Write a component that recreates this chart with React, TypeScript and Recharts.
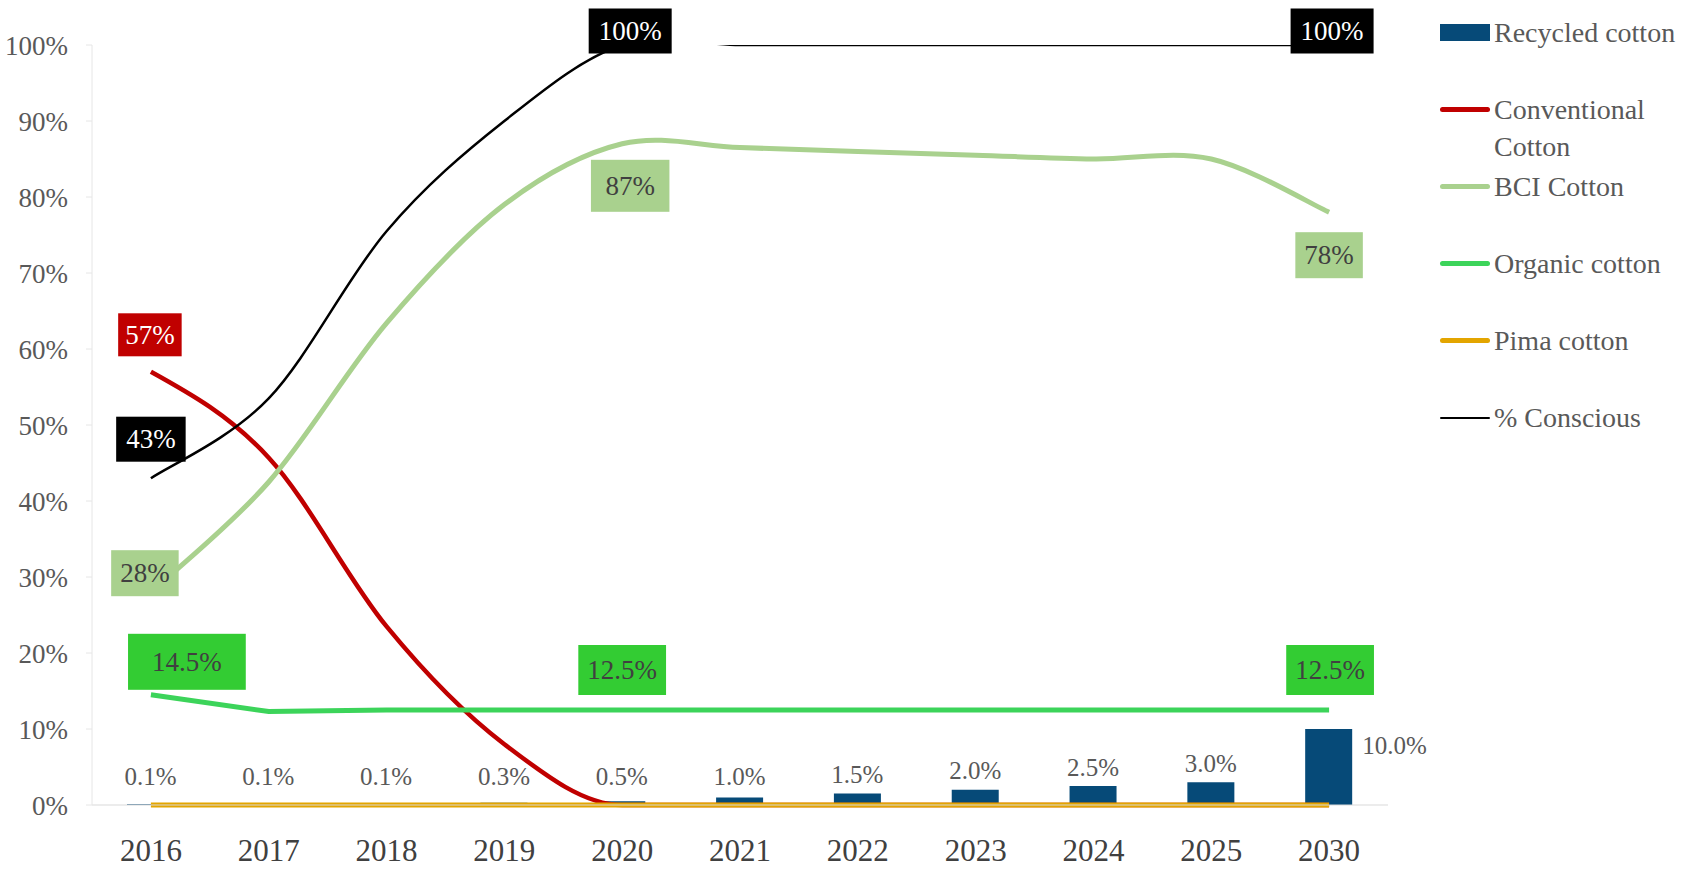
import { ComposedChart, Bar, Line, XAxis, YAxis, LabelList } from 'recharts';

const years = ['2016', '2017', '2018', '2019', '2020', '2021', '2022', '2023', '2024', '2025', '2030'];
const recycled = [0.1, 0.1, 0.1, 0.3, 0.5, 1.0, 1.5, 2.0, 2.5, 3.0, 10.0];
const conventional = [57, 45.7, 23.5, 8, 0, 0, 0, 0, 0, 0, 0];
const bci = [28, 42.5, 63.4, 79, 87, 86.5, 86, 85.5, 85, 85, 78];
const organic = [14.5, 12.3, 12.5, 12.5, 12.5, 12.5, 12.5, 12.5, 12.5, 12.5, 12.5];
const pima = [0, 0, 0, 0, 0, 0, 0, 0, 0, 0, 0];
const conscious = [43, 53.5, 75.5, 90, 100, 100, 100, 100, 100, 100, 100];
const yTicks = [0, 10, 20, 30, 40, 50, 60, 70, 80, 90, 100];

const data = years.map((year, i) => ({
  year,
  recycled: recycled[i],
  conventional: conventional[i],
  bci: bci[i],
  organic: organic[i],
  pima: pima[i],
  conscious: conscious[i],
}));

const FONT = '"Liberation Serif", "Times New Roman", serif';
const GREY = '#595959';

// Excel-style smoothing: cubic bezier through every point, tangents from neighbours
const excelSmooth = (context: any) => {
  let pts: [number, number][] = [];
  return {
    areaStart() {},
    areaEnd() {},
    lineStart() {
      pts = [];
    },
    lineEnd() {
      if (!pts.length) return;
      context.moveTo(pts[0][0], pts[0][1]);
      for (let i = 0; i < pts.length - 1; i++) {
        const p0 = pts[Math.max(i - 1, 0)];
        const p1 = pts[i];
        const p2 = pts[i + 1];
        const p3 = pts[Math.min(i + 2, pts.length - 1)];
        context.bezierCurveTo(
          p1[0] + (p2[0] - p0[0]) / 6,
          p1[1] + (p2[1] - p0[1]) / 6,
          p2[0] - (p3[0] - p1[0]) / 6,
          p2[1] - (p3[1] - p1[1]) / 6,
          p2[0],
          p2[1]
        );
      }
    },
    point(x: number, y: number) {
      pts.push([+x, +y]);
    },
  };
};

type Callout = { i: number; dx: number; dy: number; padX?: number; h?: number };
type BoxStyle = { fill: string; color: string; padX: number; h: number };

const charWidth = (s: string) =>
  s.split('').reduce((w, c) => w + (c === '%' ? 0.833 : c === '.' ? 0.25 : 0.5), 0);

const boxLabel = (spots: Callout[], box: BoxStyle) => (props: any) => {
  const vb = props.viewBox || {};
  const x = props.x ?? vb.x;
  const y = props.y ?? vb.y;
  const spot = spots.find((s) => s.i === props.index);
  if (!spot || x == null || y == null) return null;
  const text = `${props.value}%`;
  const fs = 27;
  const padX = spot.padX ?? box.padX;
  const h = spot.h ?? box.h;
  const w = charWidth(text) * fs + padX * 2;
  const cx = x + spot.dx;
  const cy = y + spot.dy;
  return (
    <g>
      <rect x={cx - w / 2} y={cy - h / 2} width={w} height={h} fill={box.fill} />
      <text
        x={cx}
        y={cy}
        textAnchor="middle"
        dominantBaseline="central"
        fontFamily={FONT}
        fontSize={fs}
        fill={box.color}
      >
        {text}
      </text>
    </g>
  );
};

const barLabel = (props: any) => {
  const vb = props.viewBox || {};
  const x = props.x ?? vb.x;
  const y = props.y ?? vb.y;
  const width = props.width ?? vb.width;
  const text = `${Number(props.value).toFixed(1)}%`;
  if (props.index === years.length - 1) {
    return (
      <text x={x + width + 10} y={y + 16} dominantBaseline="central" fontFamily={FONT} fontSize={25} fill={GREY}>
        {text}
      </text>
    );
  }
  const cy = Math.min(y - 19, 776);
  return (
    <text x={x + width / 2} y={cy} textAnchor="middle" dominantBaseline="central" fontFamily={FONT} fontSize={25} fill={GREY}>
      {text}
    </text>
  );
};

const legendItems = [
  { name: 'Recycled cotton', color: '#064A78', kind: 'bar' },
  { name: 'Conventional Cotton', color: '#C00000', kind: 'line', w: 5 },
  { name: 'BCI Cotton', color: '#A9D18E', kind: 'line', w: 5 },
  { name: 'Organic cotton', color: '#3CD45A', kind: 'line', w: 5 },
  { name: 'Pima cotton', color: '#E3A500', kind: 'line', w: 5 },
  { name: '% Conscious', color: '#000000', kind: 'line', w: 2 },
];

function CottonLegend() {
  return (
    <div style={{ position: 'absolute', left: 1440, top: 14, width: 249, fontFamily: FONT, fontSize: 28, color: GREY }}>
      {legendItems.map((it) => (
        <div key={it.name} style={{ display: 'flex', height: 77, alignItems: 'flex-start' }}>
          <div style={{ width: 50, height: 37, display: 'flex', alignItems: 'center', flexShrink: 0 }}>
            {it.kind === 'bar' ? (
              <div style={{ width: 50, height: 17, background: it.color }} />
            ) : (
              <div style={{ width: 50, height: it.w, background: it.color, borderRadius: 3 }} />
            )}
          </div>
          <div style={{ lineHeight: '37px', width: 190, marginLeft: 4 }}>{it.name}</div>
        </div>
      ))}
    </div>
  );
}

export default function App() {
  return (
    <div style={{ position: 'relative', width: 1689, height: 880, background: '#fff' }}>
      <style>{'body{margin:0}'}</style>
      <ComposedChart
        width={1689}
        height={880}
        data={data}
        margin={{ top: 45, right: 301, bottom: 15, left: 0 }}
      >
        <XAxis
          dataKey="year"
          height={60}
          axisLine={{ stroke: '#D9D9D9' }}
          tickLine={false}
          tickMargin={28}
          tick={{ fontFamily: FONT, fontSize: 31, fill: '#404040' }}
        />
        <YAxis
          width={92}
          domain={[0, 100]}
          ticks={yTicks}
          tickFormatter={(v) => `${v}%`}
          axisLine={{ stroke: '#E6E6E6' }}
          tickLine={{ stroke: '#E6E6E6' }}
          tickSize={6}
          tickMargin={18}
          tick={{ fontFamily: FONT, fontSize: 27, fill: GREY }}
        />
        {/* same scale, clipped to the plot box so the curve cannot rise past 100% */}
        <YAxis yAxisId="clip" hide domain={[0, 100]} allowDataOverflow width={0} />
        <Bar dataKey="recycled" fill="#064A78" barSize={47} isAnimationActive={false}>
          <LabelList dataKey="recycled" content={barLabel} />
        </Bar>
        <Line
          dataKey="conventional"
          type="monotone"
          stroke="#C00000"
          strokeWidth={4.5}
          dot={false}
          isAnimationActive={false}
        >
          <LabelList
            dataKey="conventional"
            content={boxLabel([{ i: 0, dx: -1, dy: -37 }], { fill: '#C00000', color: '#fff', padX: 7, h: 43 })}
          />
        </Line>
        <Line
          dataKey="bci"
          type={excelSmooth as any}
          stroke="#A9D18E"
          strokeWidth={5}
          dot={false}
          isAnimationActive={false}
        >
          <LabelList
            dataKey="bci"
            content={boxLabel(
              [
                { i: 0, dx: -6, dy: -19 },
                { i: 4, dx: 8, dy: 42, padX: 14.5, h: 52 },
                { i: 10, dx: 0, dy: 43 },
              ],
              { fill: '#A9D18E', color: '#404040', padX: 9, h: 46 }
            )}
          />
        </Line>
        <Line
          dataKey="organic"
          type="linear"
          stroke="#3CD45A"
          strokeWidth={5}
          dot={false}
          isAnimationActive={false}
        >
          <LabelList
            dataKey="organic"
            content={boxLabel(
              [
                { i: 0, dx: 36, dy: -33, padX: 24, h: 56 },
                { i: 4, dx: 0, dy: -40 },
                { i: 10, dx: 1, dy: -40 },
              ],
              { fill: '#33CC33', color: '#404040', padX: 9, h: 50 }
            )}
          />
        </Line>
        <Line
          dataKey="pima"
          type="linear"
          stroke="#E3A500"
          strokeWidth={5}
          dot={false}
          isAnimationActive={false}
        />
        <Line
          yAxisId="clip"
          dataKey="conscious"
          type={excelSmooth as any}
          stroke="#000000"
          strokeWidth={2.5}
          dot={false}
          isAnimationActive={false}
        >
          <LabelList
            dataKey="conscious"
            content={boxLabel(
              [
                { i: 0, dx: 0, dy: -39 },
                { i: 4, dx: 8, dy: -14 },
                { i: 10, dx: 3, dy: -14 },
              ],
              { fill: '#000000', color: '#fff', padX: 10, h: 45 }
            )}
          />
        </Line>
      </ComposedChart>
      <CottonLegend />
    </div>
  );
}
